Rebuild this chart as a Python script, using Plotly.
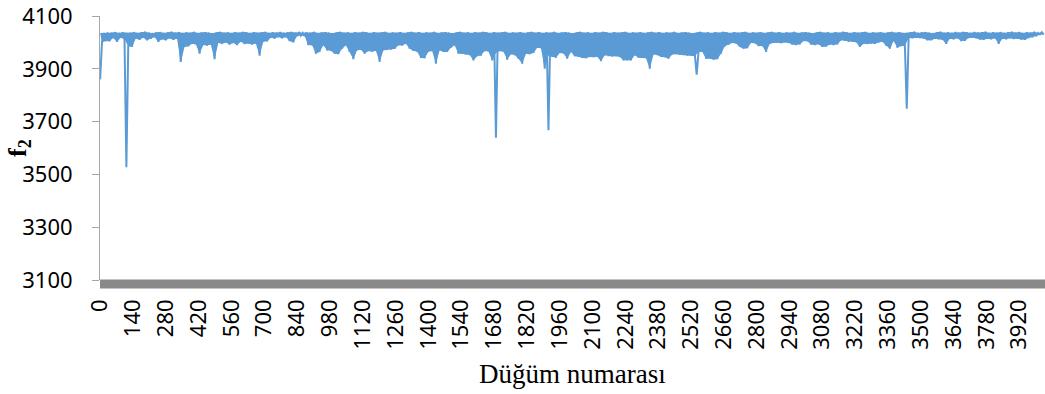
import plotly.graph_objects as go

# Upper edge of the f2 band, one reading every 16 nodes (starting at node 0)
band_top = [
    4036, 4036, 4038, 4037, 4039, 4036, 4038, 4037,
    4037, 4039, 4036, 4038, 4040, 4037, 4035, 4038,
    4039, 4036, 4038, 4040, 4037, 4039, 4036, 4038,
    4037, 4040, 4036, 4038, 4039, 4037, 4035, 4038,
    4040, 4037, 4038, 4036, 4039, 4037, 4040, 4038,
    4036, 4039, 4037, 4038, 4040, 4036, 4038, 4037,
    4039, 4036, 4038, 4040, 4037, 4039, 4036, 4038,
    4037, 4040, 4036, 4038, 4039, 4037, 4035, 4038,
    4040, 4037, 4038, 4036, 4039, 4037, 4040, 4038,
    4036, 4039, 4037, 4038, 4040, 4036, 4038, 4037,
    4039, 4036, 4038, 4040, 4037, 4039, 4036, 4038,
    4037, 4040, 4036, 4038, 4039, 4037, 4035, 4038,
    4040, 4037, 4038, 4036, 4039, 4037, 4040, 4038,
    4036, 4039, 4037, 4038, 4040, 4036, 4038, 4037,
    4039, 4036, 4038, 4040, 4037, 4039, 4036, 4038,
    4037, 4040, 4036, 4038, 4039, 4037, 4035, 4038,
    4040, 4037, 4038, 4036, 4039, 4037, 4040, 4038,
    4036, 4039, 4037, 4038, 4040, 4036, 4038, 4037,
    4039, 4036, 4038, 4040, 4037, 4039, 4036, 4038,
    4037, 4040, 4036, 4038, 4039, 4037, 4035, 4038,
    4040, 4037, 4038, 4036, 4039, 4037, 4040, 4038,
    4036, 4039, 4037, 4038, 4040, 4036, 4038, 4037,
    4039, 4036, 4038, 4040, 4037, 4039, 4036, 4038,
    4037, 4040, 4036, 4038, 4039, 4037, 4035, 4038,
    4040, 4037, 4038, 4036, 4039, 4037, 4040, 4038,
    4036, 4039, 4037, 4038, 4040, 4036, 4038, 4037,
    4039, 4036, 4038, 4040, 4037, 4039, 4036, 4037,
    4037, 4040, 4036, 4038, 4039, 4037, 4035, 4038,
    4040, 4037, 4038, 4036, 4039, 4037, 4040, 4038,
    4036, 4039, 4037, 4038, 4040, 4036, 4038, 4037,
    4039, 4036, 4038, 4040, 4037, 4039, 4036, 4038,
    4037, 4040, 4036, 4038,
]

# Lower edge of the f2 band, one reading every 16 nodes (starting at node 8)
band_low = [
    4000, 4005, 4004, 4017, 4002, 4018, 4012, 3985,
    3983, 4015, 4010, 4018, 4008, 4014, 4020, 4002,
    4012, 4008, 4016, 4010, 4014, 3926, 3983, 3985,
    3995, 3993, 3957, 3990, 3988, 3992, 3936, 3998,
    3995, 4000, 3992, 3998, 3990, 4002, 3994, 3996,
    3992, 3996, 3950, 4002, 4004, 4018, 4015, 4020,
    4016, 4020, 4005, 4000, 4024, 4026, 4024, 3990,
    3989, 3957, 3964, 3989, 3970, 3968, 3957, 3955,
    3976, 3989, 3964, 3936, 3970, 3972, 3957, 3967,
    3965, 3968, 3926, 3970, 3972, 3973, 3975, 3989,
    3988, 3995, 3976, 3968, 3965, 3941, 3940, 3965,
    3967, 3919, 3970, 3964, 3964, 3980, 3989, 3957,
    3957, 3954, 3952, 3932, 3948, 3950, 3967, 3966,
    3932, 3960, 3967, 3965, 3935, 3955, 3952, 3938,
    3919, 3957, 3955, 3960, 3980, 3978, 3900, 3950,
    3945, 3942, 3960, 3958, 3938, 3964, 3948, 3946,
    3941, 3940, 3945, 3944, 3946, 3929, 3951, 3948,
    3947, 3948, 3945, 3932, 3932, 3932, 3951, 3942,
    3941, 3940, 3900, 3954, 3952, 3945, 3944, 3938,
    3954, 3955, 3953, 3952, 3950, 3951, 3948, 3964,
    3964, 3938, 3938, 3935, 3936, 3957, 3985, 3992,
    3998, 3996, 3983, 3976, 3978, 3998, 3997, 3986,
    3986, 3964, 3995, 3998, 3999, 3997, 4000, 3998,
    3992, 3990, 3993, 4005, 4004, 3992, 3990, 3993,
    3983, 3984, 3992, 3990, 3993, 4008, 4006, 4002,
    4002, 4001, 3983, 3995, 3994, 3996, 3995, 4000,
    4002, 3988, 3976, 4005, 3980, 3986, 3986, 4017,
    4016, 4018, 4017, 4015, 4008, 4008, 4014, 4012,
    4010, 3995, 4014, 4012, 4016, 4005, 4006, 4017,
    4018, 4016, 4011, 4010, 4014, 4012, 4016, 3995,
    4014, 4012, 4016, 4013, 4014, 4011, 4010, 4017,
    4020, 4024, 4030, 4030,
]

# Single-node drops of f2
spike_nodes = [0, 112, 1688, 1912, 2544, 3440]
spike_values = [3860, 3527, 3639, 3667, 3878, 3749]

n_nodes = 4030
top_nodes = list(range(0, 16 * len(band_top), 16))
low_nodes = list(range(8, 16 * len(band_low), 16))

# Full series: band readings in node order, with the drops at their nodes
series = dict(zip(top_nodes, band_top))
series.update(zip(low_nodes, band_low))
series.update(zip(spike_nodes, spike_values))
nodes = sorted(series)
f2 = [series[n] for n in nodes]

x_ticks = list(range(0, 3921, 140))
y_ticks = list(range(3100, 4101, 200))

blue = "#5b9bd5"
fig = go.Figure()
fig.add_trace(go.Scatter(x=low_nodes, y=band_low, mode="lines",
                         line=dict(width=0, color=blue), hoverinfo="skip"))
fig.add_trace(go.Scatter(x=top_nodes, y=band_top, mode="lines",
                         line=dict(width=0, color=blue), fill="tonexty",
                         fillcolor=blue, hoverinfo="skip"))
fig.add_trace(go.Scatter(x=nodes, y=f2, mode="lines",
                         line=dict(color=blue, width=2), hoverinfo="skip"))

axis_font = dict(family="Noto Sans", size=22, color="#000000")

fig.update_layout(
    width=1045, height=394,
    margin=dict(l=100, r=0, t=16, b=114),
    paper_bgcolor="white", plot_bgcolor="white",
    showlegend=False,
    xaxis=dict(
        range=[-0.5, n_nodes - 0.5],
        tickmode="array", tickvals=x_ticks, ticktext=[str(v) for v in x_ticks],
        tickangle=-90, tickfont=axis_font,
        showgrid=False, zeroline=False, showline=False,
        ticks="", ticklabelstandoff=14, ticklabeloverflow="allow",
    ),
    yaxis=dict(
        range=[3100, 4100],
        tickmode="array", tickvals=y_ticks, ticktext=[str(v) for v in y_ticks],
        tickfont=axis_font,
        showgrid=False, zeroline=False,
        showline=True, linecolor="#a6a6a6", linewidth=1,
        ticks="outside", ticklen=7, tickcolor="#a6a6a6", tickwidth=1,
        ticklabelstandoff=15, ticklabeloverflow="allow",
    ),
    shapes=[
        # thick gray category-axis band under the plot
        dict(type="rect", xref="paper", yref="paper",
             x0=0, x1=1, y0=-8.5 / 264, y1=0.002,
             fillcolor="#898989", line=dict(width=0), layer="above"),
    ],
    annotations=[
        dict(text="Düğüm numarası", xref="paper", yref="paper",
             x=0.5, y=-94 / 264, xanchor="center", yanchor="middle",
             showarrow=False,
             font=dict(family="Liberation Serif", size=27, color="#000000")),
        dict(text="<b>f<sub>2</sub></b>", xref="paper", yref="paper",
             x=-81 / 945, y=0.5, xanchor="center", yanchor="middle",
             textangle=-90, showarrow=False,
             font=dict(family="Liberation Serif", size=26, color="#000000")),
    ],
)

fig.write_html("out.html")
